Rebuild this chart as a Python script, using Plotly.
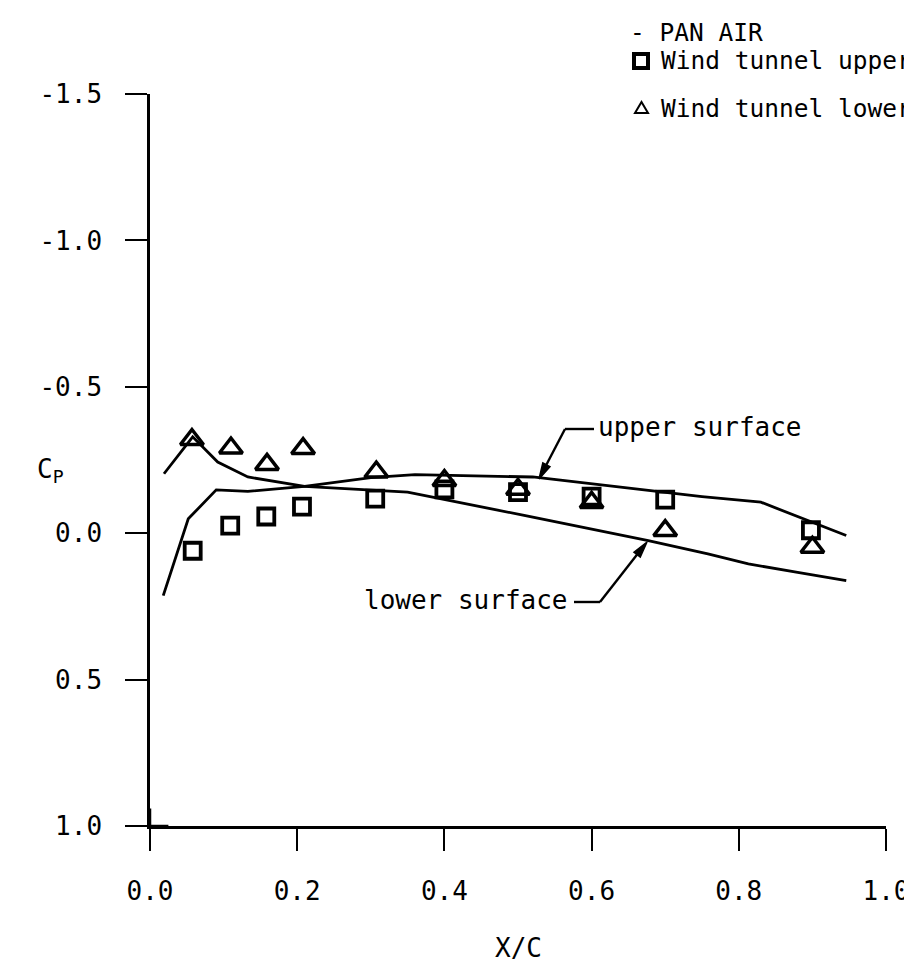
import math
import plotly.graph_objects as go

# ---- data ----
panair_upper_x = [0.018, 0.052, 0.090, 0.133, 0.210, 0.300, 0.360, 0.520, 0.750, 0.830, 0.946]
panair_upper_cp = [0.213, -0.049, -0.148, -0.143, -0.160, -0.190, -0.200, -0.192, -0.125, -0.106, 0.008]

panair_lower_x = [0.019, 0.058, 0.092, 0.133, 0.210, 0.270, 0.350, 0.510, 0.677, 0.758, 0.813, 0.880, 0.946]
panair_lower_cp = [-0.203, -0.329, -0.243, -0.192, -0.160, -0.152, -0.140, -0.060, 0.025, 0.071, 0.105, 0.134, 0.162]

wt_upper_x = [0.058, 0.109, 0.158, 0.2065, 0.306, 0.400, 0.500, 0.600, 0.700, 0.898]
wt_upper_cp = [0.060, -0.026, -0.057, -0.091, -0.118, -0.150, -0.140, -0.125, -0.115, -0.010]

wt_lower_x = [0.057, 0.110, 0.159, 0.208, 0.3075, 0.400, 0.500, 0.600, 0.700, 0.900]
wt_lower_cp = [-0.320, -0.291, -0.235, -0.289, -0.209, -0.180, -0.150, -0.105, -0.009, 0.048]

x_ticks = [0.0, 0.2, 0.4, 0.6, 0.8, 1.0]
x_tick_labels = ["0.0", "0.2", "0.4", "0.6", "0.8", "1.0"]
y_ticks = [-1.5, -1.0, -0.5, 0.0, 0.5, 1.0]
y_tick_labels = ["-1.5", "-1.0", "-0.5", "0.0", "0.5", "1.0"]

# ---- layout geometry ----
W, H = 912, 962
ML, MR, MT, MB = 142, 34, 86, 144
PW, PH = W - ML - MR, H - MT - MB

def px_x(p):
    return (p - ML) / PW

def px_y(p):
    return (H - MB - p) / PH

FONT = "DejaVu Sans Mono"
FS = 26
FS_LEG = 24.5
BLACK = "#000000"

fig = go.Figure()
fig.add_trace(go.Scatter(x=panair_upper_x, y=panair_upper_cp, mode="lines",
                         line=dict(color=BLACK, width=2.8), name="PAN AIR upper", showlegend=False))
fig.add_trace(go.Scatter(x=panair_lower_x, y=panair_lower_cp, mode="lines",
                         line=dict(color=BLACK, width=2.8), name="PAN AIR lower", showlegend=False))
fig.add_trace(go.Scatter(x=wt_upper_x, y=wt_upper_cp, mode="markers",
                         marker=dict(symbol="square-open", size=16, color=BLACK,
                                     line=dict(color=BLACK, width=3.8)),
                         name="Wind tunnel upper", showlegend=False))
fig.add_trace(go.Scatter(x=wt_lower_x, y=wt_lower_cp, mode="markers",
                         marker=dict(symbol="triangle-up-open", size=20, color=BLACK,
                                     line=dict(color=BLACK, width=3.5)),
                         name="Wind tunnel lower", showlegend=False))

annotations = []
shapes = []


def leader(h_from, kink, tip):
    """Leader line: horizontal stub, diagonal to the tip, filled arrowhead (pixel coords)."""
    shapes.append(dict(type="line", xref="paper", yref="paper",
                       x0=px_x(h_from), x1=px_x(kink[0]), y0=px_y(kink[1]), y1=px_y(kink[1]),
                       line=dict(color=BLACK, width=2.4)))
    dx, dy = tip[0] - kink[0], tip[1] - kink[1]
    n = math.hypot(dx, dy)
    ux, uy = dx / n, dy / n
    L, hw = 16, 4
    bx, by = tip[0] - ux * L, tip[1] - uy * L
    shapes.append(dict(type="line", xref="paper", yref="paper",
                       x0=px_x(kink[0]), x1=px_x(bx), y0=px_y(kink[1]), y1=px_y(by),
                       line=dict(color=BLACK, width=2.4)))
    p1 = (bx - uy * hw, by + ux * hw)
    p2 = (bx + uy * hw, by - ux * hw)
    path = "M {:.5f},{:.5f} L {:.5f},{:.5f} L {:.5f},{:.5f} Z".format(
        px_x(tip[0]), px_y(tip[1]), px_x(p1[0]), px_y(p1[1]), px_x(p2[0]), px_y(p2[1]))
    shapes.append(dict(type="path", xref="paper", yref="paper", path=path,
                       line=dict(color=BLACK, width=1.5), fillcolor=BLACK))


# curve labels with leaders
annotations.append(dict(x=px_x(588), y=px_y(419), xref="paper", yref="paper", text="upper surface",
                        showarrow=False, xanchor="left", yanchor="middle",
                        font=dict(family=FONT, size=FS, color=BLACK)))
leader(586, (557, 421), (531, 471))

annotations.append(dict(x=px_x(562), y=px_y(592), xref="paper", yref="paper", text="lower surface",
                        showarrow=False, xanchor="right", yanchor="middle",
                        font=dict(family=FONT, size=FS, color=BLACK)))
leader(566, (592, 594), (639, 534))

# axis titles
annotations.append(dict(x=px_x(42), y=px_y(462), xref="paper", yref="paper",
                        text="C<sub>P</sub>", showarrow=False, xanchor="center", yanchor="middle",
                        font=dict(family=FONT, size=FS, color=BLACK)))
annotations.append(dict(x=0.5, y=px_y(940), xref="paper", yref="paper", text="X/C",
                        showarrow=False, xanchor="center", yanchor="middle",
                        font=dict(family=FONT, size=FS, color=BLACK)))

# legend (drawn as text in the top-right corner)
annotations.append(dict(x=px_x(620), y=px_y(24), xref="paper", yref="paper", text="- PAN AIR",
                        showarrow=False, xanchor="left", yanchor="middle",
                        font=dict(family=FONT, size=FS_LEG, color=BLACK)))
annotations.append(dict(x=px_x(651), y=px_y(53), xref="paper", yref="paper", text="Wind tunnel upper",
                        showarrow=False, xanchor="left", yanchor="middle",
                        font=dict(family=FONT, size=FS_LEG, color=BLACK)))
annotations.append(dict(x=px_x(651), y=px_y(100), xref="paper", yref="paper", text="Wind tunnel lower",
                        showarrow=False, xanchor="left", yanchor="middle",
                        font=dict(family=FONT, size=FS_LEG, color=BLACK)))
shapes.append(dict(type="rect", xref="paper", yref="paper",
                   x0=px_x(626), x1=px_x(640), y0=px_y(60), y1=px_y(46),
                   line=dict(color=BLACK, width=4), fillcolor="white"))
shapes.append(dict(type="path", xref="paper", yref="paper",
                   path="M {:.5f},{:.5f} L {:.5f},{:.5f} L {:.5f},{:.5f} Z".format(
                       px_x(627), px_y(105), px_x(640), px_y(105), px_x(633.5), px_y(94)),
                   line=dict(color=BLACK, width=2), fillcolor="white"))

# small crossing stubs at the origin
shapes.append(dict(type="line", xref="x", yref="y", x0=0, x1=0, y0=1.0, y1=0.94,
                   line=dict(color=BLACK, width=2.5)))
shapes.append(dict(type="line", xref="x", yref="y", x0=0, x1=0.025, y0=1.0, y1=1.0,
                   line=dict(color=BLACK, width=2.5)))

fig.update_layout(
    width=W, height=H,
    margin=dict(l=ML, r=MR, t=MT, b=MB, pad=0),
    paper_bgcolor="white", plot_bgcolor="white",
    showlegend=False,
    font=dict(family=FONT, size=FS, color=BLACK),
    annotations=annotations, shapes=shapes,
    xaxis=dict(range=[0, 1], tickvals=x_ticks, ticktext=x_tick_labels,
               showgrid=False, zeroline=False, showline=True, linecolor=BLACK, linewidth=2.5,
               ticks="outside", ticklen=22, tickwidth=2, tickcolor=BLACK,
               ticklabelstandoff=18, tickfont=dict(family=FONT, size=FS, color=BLACK)),
    yaxis=dict(range=[1.0, -1.5], tickvals=y_ticks, ticktext=y_tick_labels,
               showgrid=False, zeroline=False, showline=True, linecolor=BLACK, linewidth=2.5,
               ticks="outside", ticklen=22, tickwidth=2, tickcolor=BLACK,
               ticklabelstandoff=18, tickfont=dict(family=FONT, size=FS, color=BLACK)),
)

fig.write_html("out.html")
